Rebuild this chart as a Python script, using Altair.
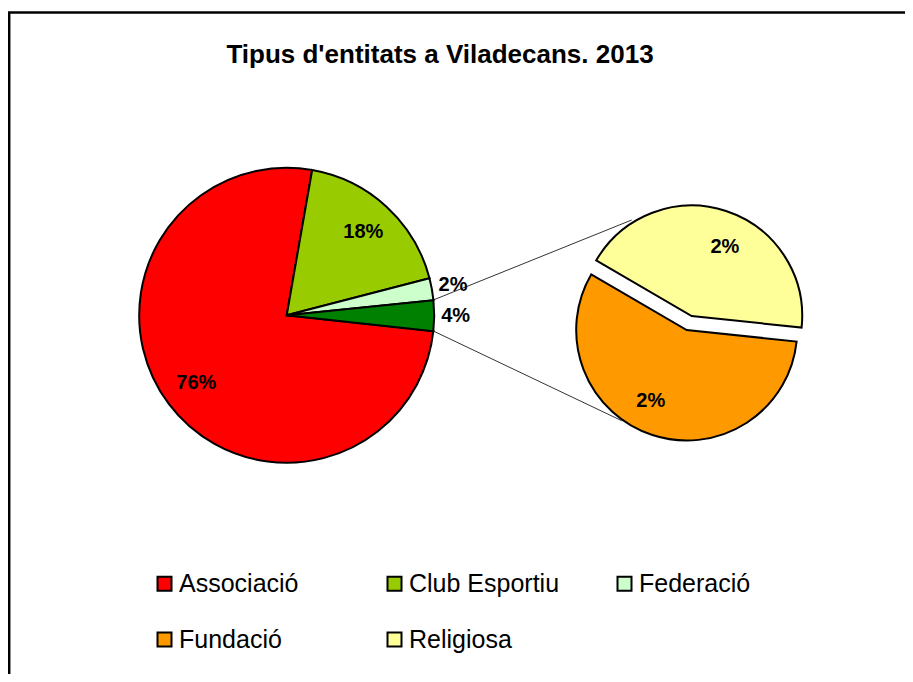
import math
import altair as alt
import pandas as pd

# ---- data ----
TITLE = "Tipus d'entitats a Viladecans. 2013"
main_cats = ["Associació", "Club Esportiu", "Federació", "Altres"]
main_vals = [76.0, 18.2, 2.4, 3.35]
main_labels = ["76%", "18%", "2%", "4%"]
sec_cats = ["Fundació", "Religiosa"]
sec_vals = [1.9, 1.45]
sec_labels = ["2%", "2%"]
legend_cats = ["Associació", "Club Esportiu", "Federació", "Fundació", "Religiosa"]
color_domain = ["Associació", "Club Esportiu", "Federació", "Altres", "Fundació", "Religiosa"]
color_range = ["#FF0000", "#99CC00", "#CCFFCC", "#008000", "#FF9900", "#FFFF99"]

main_df = pd.DataFrame({"cat": main_cats, "val": main_vals, "lab": main_labels,
                        "ord": list(range(len(main_cats)))})
sec_df = pd.DataFrame({"cat": sec_cats, "val": sec_vals, "lab": sec_labels,
                       "ord": list(range(len(sec_cats)))})
one = pd.DataFrame({"t": [TITLE]})

# ---- layout ----
W, H = 897, 666
FONT = "Liberation Sans"
MAIN_X, MAIN_Y, MAIN_R = 278.7, 307.3, 147.5
SEC_X, SEC_Y, SEC_R = 678.7, 322.0, 110.5
REL_X, REL_Y = 683.7, 308.0
main_start = math.radians(96.2)
sec_start = math.radians(96.0)
LABEL_SIZE = 20


def theta(start):
    return alt.Theta("val:Q", stack=True,
                     scale=alt.Scale(range=[start, start + 2 * math.pi]))


color = alt.Color(
    "cat:N",
    title=None,
    scale=alt.Scale(domain=color_domain, range=color_range),
    legend=alt.Legend(
        values=legend_cats, orient="none", legendX=144, legendY=563,
        direction="horizontal", columns=3, gridAlign="all",
        columnPadding=52, rowPadding=30,
        symbolType="square", symbolSize=196, symbolStrokeColor="black",
        symbolStrokeWidth=2, labelFont=FONT, labelFontSize=25,
        labelColor="black", labelOffset=2, padding=0, labelLimit=400,
    ),
)
order = alt.Order("ord:Q")


def only(cats):
    return (alt.when(alt.FieldOneOfPredicate(field="cat", oneOf=cats))
            .then(alt.value(1)).otherwise(alt.value(0)))


main_pie = alt.Chart(main_df).mark_arc(
    x=MAIN_X, y=MAIN_Y, radius=MAIN_R, stroke="black", strokeWidth=2
).encode(theta=theta(main_start), color=color, order=order)

main_in = alt.Chart(main_df).mark_text(
    x=MAIN_X, y=MAIN_Y, radius=113, font=FONT, fontWeight="bold",
    fontSize=LABEL_SIZE, color="black"
).encode(theta=theta(main_start), text="lab:N", order=order, detail="cat:N",
         opacity=only(["Associació", "Club Esportiu"]))

main_out = alt.Chart(main_df).mark_text(
    x=MAIN_X, y=MAIN_Y, radius=169, font=FONT, fontWeight="bold",
    fontSize=LABEL_SIZE, color="black"
).encode(theta=theta(main_start), text="lab:N", order=order, detail="cat:N",
         opacity=only(["Federació", "Altres"]))

sec_a = alt.Chart(sec_df).mark_arc(
    x=SEC_X, y=SEC_Y, radius=SEC_R, stroke="black", strokeWidth=2
).encode(theta=theta(sec_start), color=color, order=order, opacity=only(["Fundació"]))

sec_b = alt.Chart(sec_df).mark_arc(
    x=REL_X, y=REL_Y, radius=SEC_R, stroke="black", strokeWidth=2
).encode(theta=theta(sec_start), color=color, order=order, opacity=only(["Religiosa"]))

sec_lab_a = alt.Chart(sec_df).mark_text(
    x=SEC_X, y=SEC_Y, radius=80, thetaOffset=0.15, font=FONT, fontWeight="bold",
    fontSize=LABEL_SIZE, color="black"
).encode(theta=theta(sec_start), text="lab:N", order=order, detail="cat:N",
         opacity=only(["Fundació"]))

sec_lab_b = alt.Chart(sec_df).mark_text(
    x=REL_X, y=REL_Y, radius=77, thetaOffset=0.13, font=FONT, fontWeight="bold",
    fontSize=LABEL_SIZE, color="black"
).encode(theta=theta(sec_start), text="lab:N", order=order, detail="cat:N",
         opacity=only(["Religiosa"]))

# series lines linking the "other" slice to the secondary pie
line_up = alt.Chart(one).mark_rule(color="#333333", strokeWidth=1).encode(
    x=alt.value(425.3), y=alt.value(292.0), x2=alt.value(623.7), y2=alt.value(212.0))
line_dn = alt.Chart(one).mark_rule(color="#333333", strokeWidth=1).encode(
    x=alt.value(425.3), y=alt.value(323.0), x2=alt.value(613.7), y2=alt.value(412.7))

# chart-area frame (top and left edges visible in the reference)
frame_top = alt.Chart(one).mark_rule(color="black", strokeWidth=2.5).encode(
    x=alt.value(0), x2=alt.value(W), y=alt.value(4.5), y2=alt.value(4.5))
frame_left = alt.Chart(one).mark_rule(color="black", strokeWidth=2.5).encode(
    x=alt.value(1.2), x2=alt.value(1.2), y=alt.value(4.5), y2=alt.value(H))

title = alt.Chart(one).mark_text(
    x=432, y=55, font=FONT, fontWeight="bold", fontSize=26, color="black",
    align="center", baseline="alphabetic"
).encode(text="t:N")

chart = alt.layer(
    line_up, line_dn, main_pie, main_in, main_out, sec_a, sec_b, sec_lab_a, sec_lab_b,
    frame_top, frame_left, title
).resolve_scale(theta="independent").properties(
    width=W, height=H, autosize=alt.AutoSizeParams(type="none"), padding=0,
    background="white"
).configure_view(strokeWidth=0)

chart.save("out.html", embed_options={"renderer": "svg", "actions": False})
